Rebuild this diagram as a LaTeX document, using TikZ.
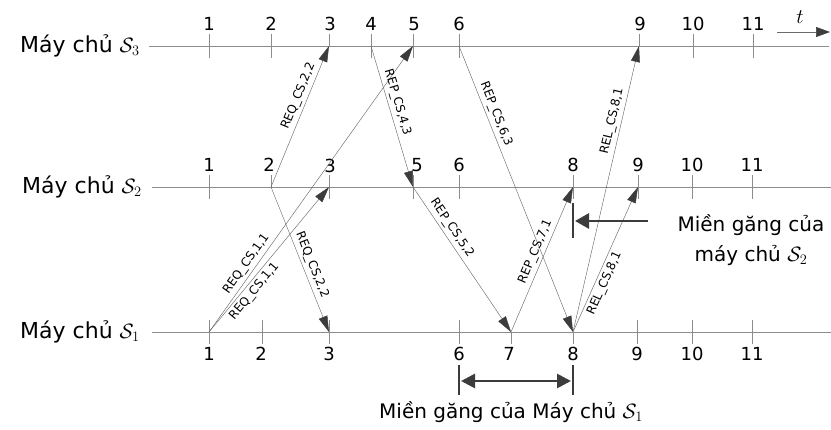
\documentclass[tikz,border=0pt]{standalone}
\usepackage{fontspec}
\setmainfont{DejaVu Sans}
\usetikzlibrary{arrows.meta}
\definecolor{lineg}{HTML}{8C8C8C}
\definecolor{msgg}{HTML}{6A6A6A}
\definecolor{headg}{HTML}{3C3C3C}

\begin{document}
\begin{tikzpicture}[x=1pt, y=-1pt,
    every node/.style={inner sep=1pt},
    server/.style={anchor=east, font=\fontsize{22}{24}\selectfont},
    num/.style={font=\fontsize{18}{20}\selectfont},
    note/.style={align=center, font=\fontsize{20}{30}\selectfont},
    lbl/.style={sloped, inner sep=3pt, font=\fontsize{12}{12}\selectfont},
    timeline/.style={draw=lineg, line width=0.7pt},
    tick/.style={draw=lineg, line width=0.7pt},
    msg/.style={draw=msgg, line width=0.45pt, -{Triangle[length=16pt, width=9pt, color=headg]}},
    bar/.style={draw=headg, line width=2.8pt},
    zone/.style={draw=headg, line width=2.8pt, -{Triangle[length=14pt, width=15pt]}},
    zones/.style={draw=headg, line width=2.8pt, {Triangle[length=14pt, width=14pt]}-{Triangle[length=14pt, width=14pt]}}]
    \useasboundingbox (0,0) rectangle (831,430);

    % servers and time axes
    \node[server] (lab3) at (141,46) {Máy chủ $\mathcal{S}_3$};
    \node[server] (lab2) at (143,187) {Máy chủ $\mathcal{S}_2$};
    \node[server] (lab1) at (141,332) {Máy chủ $\mathcal{S}_1$};
    \coordinate (beg3) at (149,46);  \coordinate (end3) at (829,46);
    \coordinate (beg2) at (152,187); \coordinate (end2) at (831,187);
    \coordinate (beg1) at (152,332); \coordinate (end1) at (831,332);
    \draw[timeline] (beg3) -- (end3);
    \draw[timeline] (beg2) -- (end2);
    \draw[timeline] (beg1) -- (end1);

    % time arrow
    \coordinate (ta) at (777,32);
    \coordinate (tb) at (830,32);
    \draw[draw=msgg, line width=0.6pt, -{Triangle[length=14pt, width=10pt, color=headg]}] (ta) -- (tb);
    \node[font=\fontsize{20}{20}\selectfont] (tlab) at (800,17) {$t$};

    % ticks of S3
    \coordinate (s3-1) at (209,46);  \draw[tick] (s3-1) ++(0,-12) -- ++(0,24); \node[num] (n3-1) at (209,24) {1};
    \coordinate (s3-2) at (271,46);  \draw[tick] (s3-2) ++(0,-12) -- ++(0,24); \node[num] (n3-2) at (271,24) {2};
    \coordinate (s3-3) at (329,46);  \draw[tick] (s3-3) ++(0,-12) -- ++(0,12); \node[num] (n3-3) at (330,24) {3};
    \coordinate (s3-4) at (371,46);  \draw[tick] (s3-4) ++(0,-12) -- ++(0,24); \node[num] (n3-4) at (371,24) {4};
    \coordinate (s3-5) at (413,46);  \draw[tick] (s3-5) ++(0,-12) -- ++(0,24); \node[num] (n3-5) at (414,24) {5};
    \coordinate (s3-6) at (459,46);  \draw[tick] (s3-6) ++(0,-12) -- ++(0,24); \node[num] (n3-6) at (459,24) {6};
    \coordinate (s3-9) at (639,46);  \draw[tick] (s3-9) ++(0,-12) -- ++(0,12); \node[num] (n3-9) at (640,24) {9};
    \coordinate (s3-10) at (693,46); \draw[tick] (s3-10) ++(0,-12) -- ++(0,24); \node[num] (n3-10) at (693,24) {10};
    \coordinate (s3-11) at (753,46); \draw[tick] (s3-11) ++(0,-12) -- ++(0,24); \node[num] (n3-11) at (753,24) {11};

    % ticks of S2
    \coordinate (s2-1) at (209,187);  \draw[tick] (s2-1) ++(0,-12) -- ++(0,24); \node[num] (n2-1) at (209,165) {1};
    \coordinate (s2-2) at (271,187);  \draw[tick] (s2-2) ++(0,-12) -- ++(0,12); \node[num] (n2-2) at (269,165) {2};
    \coordinate (s2-3) at (329,187);  \draw[tick] (s2-3) ++(0,-12) -- ++(0,24); \node[num] (n2-3) at (330,166) {3};
    \coordinate (s2-5) at (413,187);  \draw[tick] (s2-5) ++(0,-12) -- ++(0,24); \node[num] (n2-5) at (417,165) {5};
    \coordinate (s2-6) at (459,187);  \draw[tick] (s2-6) ++(0,-12) -- ++(0,24); \node[num] (n2-6) at (459,165) {6};
    \coordinate (s2-8) at (573,187);  \draw[tick] (s2-8) ++(0,-12) -- ++(0,24); \node[num] (n2-8) at (573,165) {8};
    \coordinate (s2-9) at (638,187);  \draw[tick] (s2-9) ++(0,-12) -- ++(0,24); \node[num] (n2-9) at (638,165) {9};
    \coordinate (s2-10) at (692,187); \draw[tick] (s2-10) ++(0,-12) -- ++(0,24); \node[num] (n2-10) at (692,165) {10};
    \coordinate (s2-11) at (752,187); \draw[tick] (s2-11) ++(0,-12) -- ++(0,24); \node[num] (n2-11) at (752,165) {11};

    % ticks of S1
    \coordinate (s1-1) at (209,332);  \draw[tick] (s1-1) ++(0,-12) -- ++(0,24); \node[num] (n1-1) at (209,354) {1};
    \coordinate (s1-2) at (262,332);  \draw[tick] (s1-2) ++(0,-12) -- ++(0,24); \node[num] (n1-2) at (261,354) {2};
    \coordinate (s1-3) at (329,332);  \draw[tick] (s1-3) ++(0,-12) -- ++(0,24); \node[num] (n1-3) at (329,354) {3};
    \coordinate (s1-6) at (459,332);  \draw[tick] (s1-6) ++(0,-12) -- ++(0,24); \node[num] (n1-6) at (459,354) {6};
    \coordinate (s1-7) at (511,332);  \draw[tick] (s1-7) ++(0,0) -- ++(0,12);   \node[num] (n1-7) at (509,354) {7};
    \coordinate (s1-8) at (573,332);  \draw[tick] (s1-8) ++(0,0) -- ++(0,12);   \node[num] (n1-8) at (573,354) {8};
    \coordinate (s1-9) at (637,332);  \draw[tick] (s1-9) ++(0,-12) -- ++(0,24); \node[num] (n1-9) at (637,354) {9};
    \coordinate (s1-10) at (692,332); \draw[tick] (s1-10) ++(0,-12) -- ++(0,24); \node[num] (n1-10) at (692,354) {10};
    \coordinate (s1-11) at (752,332); \draw[tick] (s1-11) ++(0,-12) -- ++(0,24); \node[num] (n1-11) at (752,354) {11};

    % requests
    \draw[msg] (s2-2) -- node[lbl, above, pos=0.62] (q22a) {REQ\_CS,2,2} (s3-3);
    \draw[msg] (s2-2) -- node[lbl, above, pos=0.56] (q22b) {REQ\_CS,2,2} (s1-3);
    \draw[msg] (s1-1) -- node[lbl, above, pos=0.22] (q11a) {REQ\_CS,1,1} (s3-5);
    \draw[msg] (s1-1) -- node[lbl, below, pos=0.32] (q11b) {REQ\_CS,1,1} (s2-3);

    % replies
    \draw[msg] (s3-4) -- node[lbl, above, pos=0.42] (p43) {REP\_CS,4,3} (s2-5);
    \draw[msg] (s3-6) -- node[lbl, above, pos=0.25] (p63) {REP\_CS,6,3} (s1-8);
    \draw[msg] (s2-5) -- node[lbl, above, pos=0.32] (p52) {REP\_CS,5,2} (s1-7);
    \draw[msg] (s1-7) -- node[lbl, above, pos=0.53] (p71) {REP\_CS,7,1} (s2-8);

    % releases
    \draw[msg] (s1-8) -- node[lbl, above, pos=0.73] (r81a) {REL\_CS,8,1} (s3-9);
    \draw[msg] (s1-8) -- node[lbl, below, pos=0.36] (r81b) {REL\_CS,8,1} (s2-9);

    % critical section of S2
    \coordinate (cs2top) at (573,203);
    \coordinate (cs2bot) at (573,238);
    \coordinate (cs2head) at (575,221);
    \coordinate (cs2tail) at (648,221);
    \draw[bar] (cs2top) -- (cs2bot);
    \draw[zone] (cs2tail) -- (cs2head);
    \node[note] (cs2txt) at (751,240) {Miền găng của\\máy chủ $\mathcal{S}_2$};

    % critical section of S1
    \coordinate (cs1atop) at (459,365); \coordinate (cs1abot) at (459,395);
    \coordinate (cs1btop) at (573,365); \coordinate (cs1bbot) at (573,395);
    \coordinate (cs1a) at (461,381); \coordinate (cs1b) at (571,381);
    \draw[bar] (cs1atop) -- (cs1abot);
    \draw[bar] (cs1btop) -- (cs1bbot);
    \draw[zones] (cs1a) -- (cs1b);
    \node[note] (cs1txt) at (511,412) {Miền găng của Máy chủ $\mathcal{S}_1$};
\end{tikzpicture}
\end{document}
